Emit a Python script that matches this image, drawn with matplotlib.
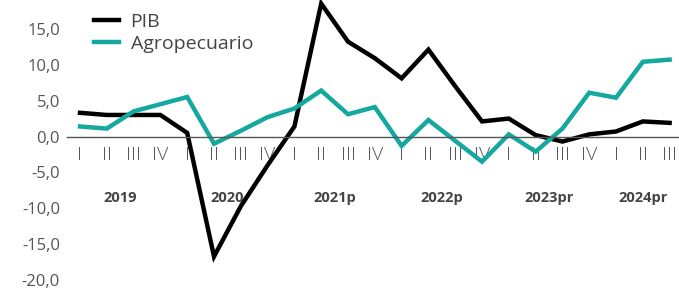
import numpy as np
import matplotlib.pyplot as plt
from matplotlib.ticker import FuncFormatter

plt.rcParams['font.family'] = ['Open Sans', 'DejaVu Sans']

quarters = ['I', 'II', 'III', 'IV'] * 5 + ['I', 'II', 'III']
years = ['2019', '2020', '2021p', '2022p', '2023pr', '2024pr']
pib = [3.3, 3.0, 3.0, 3.0, 0.5, -16.7, -9.7, -4.0, 1.4, 18.5, 13.2, 10.9,
       8.1, 12.1, 7.0, 2.1, 2.5, 0.2, -0.7, 0.3, 0.7, 2.1, 1.9]
agro = [1.4, 1.1, 3.5, 4.5, 5.5, -1.0, 0.8, 2.7, 3.9, 6.4, 3.1, 4.1,
        -1.3, 2.3, -0.6, -3.5, 0.3, -2.1, 1.1, 6.1, 5.4, 10.4, 10.7]

x = np.arange(len(quarters))

fig = plt.figure(figsize=(6.79, 2.91), dpi=100)
ax = fig.add_axes([67/679, 0, 612/679, 1])

ax.plot(x, pib, color='black', lw=3.2, label='PIB', solid_joinstyle='miter')
ax.plot(x, agro, color='#14a89f', lw=3.2, label='Agropecuario', solid_joinstyle='miter')

ax.set_xlim(-0.485, 22.35)
ax.set_ylim(-21.5, 19.0)

for s in ['top', 'right', 'left']:
    ax.spines[s].set_visible(False)
ax.spines['bottom'].set_position(('data', 0))
ax.spines['bottom'].set_color('#555555')
ax.spines['bottom'].set_linewidth(1.0)

ax.set_xticks(x)
ax.set_xticklabels(quarters, fontsize=14, color='#555555', fontweight='light')
ax.tick_params(axis='x', length=0, pad=7)

ax.set_yticks(np.arange(-20, 16, 5))
ax.yaxis.set_major_formatter(FuncFormatter(lambda v, p: f'{v:.1f}'.replace('.', ',')))
ax.tick_params(axis='y', length=0, pad=5, labelsize=12, labelcolor='#555555')

# year labels centred under their quarters
for k, yr in enumerate(years):
    idx = [i for i in range(len(quarters)) if i // 4 == k]
    ax.text(np.mean(idx) if k < 5 else idx[1], -8.6, yr, ha='center', va='center',
            fontsize=10.5, fontweight='bold', color='#444444')

leg = ax.legend(loc='upper left', bbox_to_anchor=(0.015, 1.015), frameon=False,
                fontsize=14, handlelength=1.3, handletextpad=0.6, labelspacing=0.2)
for t in leg.get_texts():
    t.set_color('#444444')

fig.savefig('out.png', dpi=100)
